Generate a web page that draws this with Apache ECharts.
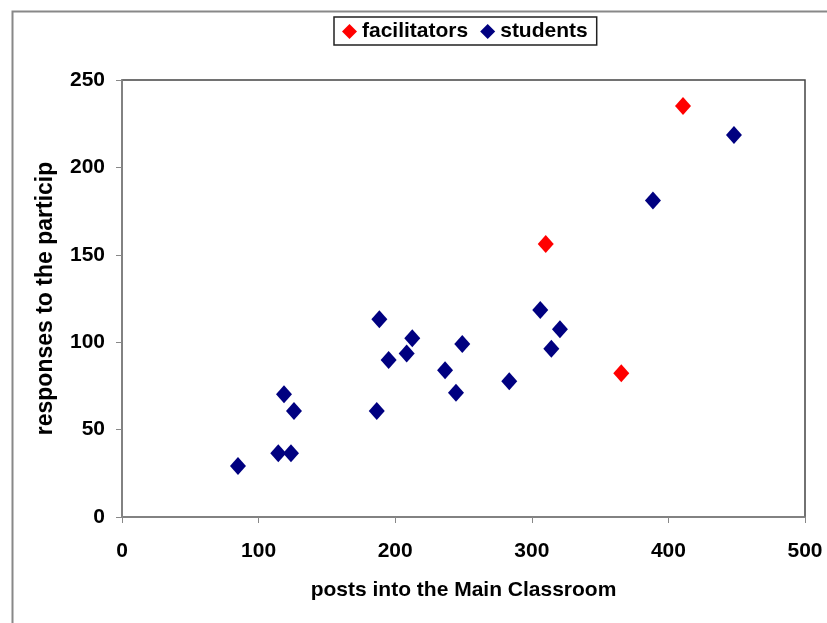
<!DOCTYPE html>
<html>
<head>
<meta charset="utf-8">
<script src="https://cdn.jsdelivr.net/npm/echarts@6/dist/echarts.min.js"></script>
<style>html,body{margin:0;padding:0;background:#fff}#c{width:827px;height:623px}</style>
</head>
<body>
<div id="c"></div>
<script>
// posts into the Main Classroom (x), responses to the particip (y)
var facilitatorsX = [410.7, 310.2, 365.5];
var facilitatorsY = [235.1, 156.2, 82.2];
var studentsX = [448.0, 388.7, 306.2, 320.6, 314.3, 283.5, 188.4, 212.5, 208.4, 195.2, 249.1, 236.5, 244.5, 118.6, 125.9, 186.5, 84.9, 114.4, 123.7];
var studentsY = [218.5, 181.0, 118.4, 107.4, 96.3, 77.6, 113.1, 102.2, 93.6, 89.8, 99.0, 83.9, 71.1, 70.2, 60.6, 60.6, 29.2, 36.4, 36.4];
var xTicks = [0, 100, 200, 300, 400, 500];
var yTicks = [0, 50, 100, 150, 200, 250];
var seriesNames = ['facilitators', 'students'];
var xTitle = 'posts into the Main Classroom';
var yTitle = 'responses to the particip';

function pairs(xs, ys) { return xs.map(function (x, i) { return [x, ys[i]]; }); }

var chart = echarts.init(document.getElementById('c'));
var font = 'Liberation Sans, Arial, sans-serif';
chart.setOption({
  animation: false,
  backgroundColor: '#fff',
  graphic: [{
    type: 'rect', left: 10, top: 9, silent: true, z: -10,
    shape: { width: 840, height: 650 },
    style: { fill: 'none', stroke: '#888', lineWidth: 2 }
  }],
  legend: {
    left: 334, top: 17,
    padding: [4, 9, 3, 8],
    borderColor: '#222', borderWidth: 1.5,
    itemWidth: 15, itemHeight: 15, itemGap: 12,
    textStyle: { fontFamily: font, fontWeight: 'bold', fontSize: 21, color: '#000' },
    data: [{ name: seriesNames[0], icon: 'diamond' }, { name: seriesNames[1], icon: 'diamond' }]
  },
  grid: { left: 122, right: 22, top: 80, bottom: 106, show: true, borderColor: '#444', borderWidth: 1.5, backgroundColor: '#fff' },
  xAxis: {
    type: 'value', min: xTicks[0], max: xTicks[xTicks.length - 1], interval: 100,
    name: xTitle, nameLocation: 'middle', nameGap: 63,
    nameTextStyle: { fontFamily: font, fontWeight: 'bold', fontSize: 21, color: '#000' },
    axisLine: { show: true, lineStyle: { color: '#888', width: 1.5 } },
    axisTick: { show: true, length: 6, lineStyle: { color: '#888' } },
    splitLine: { show: false },
    axisLabel: { margin: 24, fontFamily: font, fontWeight: 'bold', fontSize: 21, color: '#000' }
  },
  yAxis: {
    type: 'value', min: yTicks[0], max: yTicks[yTicks.length - 1], interval: 50,
    name: yTitle, nameLocation: 'middle', nameGap: 65, nameRotate: 90,
    nameTextStyle: { fontFamily: font, fontWeight: 'bold', fontSize: 23, color: '#000' },
    axisLine: { show: true, lineStyle: { color: '#888', width: 1.5 } },
    axisTick: { show: true, length: 6, lineStyle: { color: '#888' } },
    splitLine: { show: false },
    axisLabel: { margin: 17, fontFamily: font, fontWeight: 'bold', fontSize: 21, color: '#000' }
  },
  series: [
    { name: seriesNames[0], type: 'scatter', symbol: 'diamond', symbolSize: [16, 18], itemStyle: { color: '#ff0000', opacity: 1 }, data: pairs(facilitatorsX, facilitatorsY), z: 3 },
    { name: seriesNames[1], type: 'scatter', symbol: 'diamond', symbolSize: [16, 18], itemStyle: { color: '#000080', opacity: 1 }, data: pairs(studentsX, studentsY), z: 2 }
  ]
});
</script>
</body>
</html>
